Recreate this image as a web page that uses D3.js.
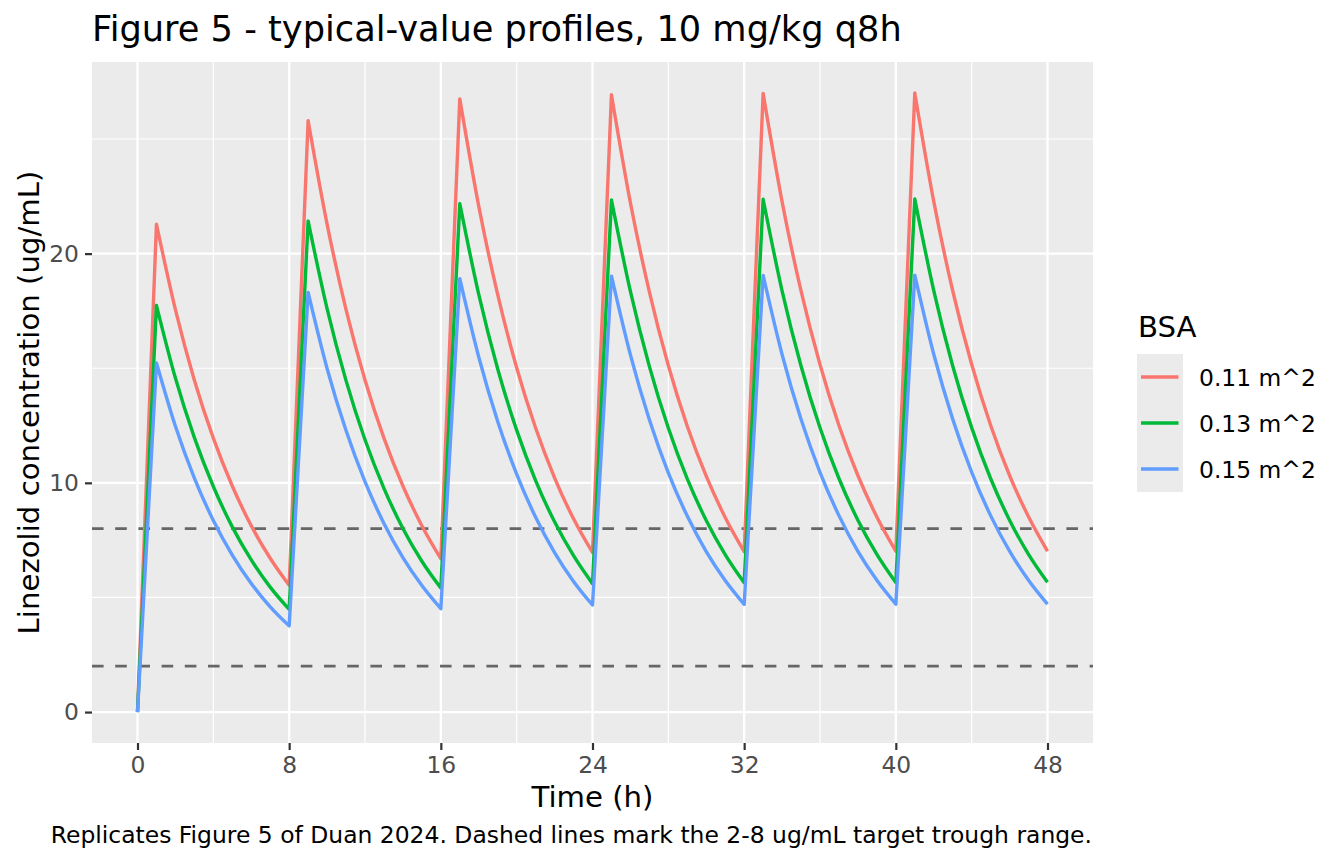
<!DOCTYPE html>
<html>
<head>
<meta charset="utf-8">
<script src="https://cdn.jsdelivr.net/npm/d3@7"></script>
<style>
  html, body { margin: 0; padding: 0; background: #ffffff; }
  svg { display: block; font-family: "DejaVu Sans", sans-serif; }
</style>
</head>
<body>
<svg id="chart" width="1344" height="864"></svg>
<script>
// ---- data ----
const timeHours = [0,1,2,3,4,5,6,7,8,9,10,11,12,13,14,15,16,17,18,19,20,21,22,23,24,25,26,27,28,29,30,31,32,33,34,35,36,37,38,39,40,41,42,43,44,45,46,47,48];
const doseTimes = [0, 8, 16, 24, 32, 40];
const seriesNames = ["0.11 m^2", "0.13 m^2", "0.15 m^2"];
const seriesColors = ["#F8766D", "#00BA38", "#619CFF"];
const conc011 = [0,
  21.28,17.56,14.48,11.95,9.86,8.13,6.71,5.53,
  25.80,21.29,17.56,14.49,11.95,9.86,8.13,6.69,
  26.75,22.07,18.21,15.02,12.39,10.22,8.43,6.96,
  26.93,22.22,18.33,15.12,12.47,10.29,8.49,7.00,
  26.99,22.27,18.37,15.16,12.50,10.32,8.51,7.02,
  27.01,22.28,18.38,15.17,12.51,10.32,8.52,7.02];
const conc013 = [0,
  17.74,14.57,11.97,9.84,8.08,6.64,5.45,4.48,
  21.42,17.60,14.46,11.88,9.76,8.01,6.58,5.41,
  22.18,18.22,14.97,12.30,10.10,8.30,6.82,5.60,
  22.34,18.35,15.08,12.39,10.17,8.36,6.87,5.64,
  22.37,18.38,15.10,12.40,10.19,8.37,6.88,5.65,
  22.38,18.39,15.10,12.41,10.19,8.37,6.88,5.66];
const conc015 = [0,
  15.23,12.47,10.21,8.36,6.85,5.61,4.59,3.76,
  18.31,14.99,12.28,10.05,8.23,6.74,5.52,4.51,
  18.91,15.49,12.68,10.38,8.50,6.96,5.70,4.67,
  19.02,15.58,12.75,10.44,8.55,7.00,5.74,4.70,
  19.05,15.60,12.77,10.46,8.57,7.01,5.75,4.71,
  19.06,15.61,12.78,10.47,8.57,7.02,5.75,4.71];
const seriesValues = [conc011, conc013, conc015];
const targetLines = [2, 8];
const xMajorTicks = [0, 8, 16, 24, 32, 40, 48];
const xMinorTicks = [4, 12, 20, 28, 36, 44];
const yMajorTicks = [0, 10, 20];
const yMinorTicks = [5, 15, 25];

const titleText = "Figure 5 - typical-value profiles, 10 mg/kg q8h";
const xTitle = "Time (h)";
const yTitle = "Linezolid concentration (ug/mL)";
const legendTitle = "BSA";
const captionText = "Replicates Figure 5 of Duan 2024. Dashed lines mark the 2-8 ug/mL target trough range.";

// ---- layout ----
const panel = { left: 92, right: 1093, top: 62, bottom: 743 };
const svg = d3.select("#chart");

const x = d3.scaleLinear().domain([-2.4, 50.4]).range([panel.left, panel.right]);
const y = d3.scaleLinear().domain([-1.35, 28.36]).range([panel.bottom, panel.top]);

// panel background
svg.append("rect")
  .attr("x", panel.left).attr("y", panel.top)
  .attr("width", panel.right - panel.left).attr("height", panel.bottom - panel.top)
  .attr("fill", "#EBEBEB");

const grid = svg.append("g");
// minor grid
grid.selectAll(".ymin").data(yMinorTicks).join("line")
  .attr("x1", panel.left).attr("x2", panel.right)
  .attr("y1", d => y(d)).attr("y2", d => y(d))
  .attr("stroke", "#ffffff").attr("stroke-width", 1.2);
grid.selectAll(".xmin").data(xMinorTicks).join("line")
  .attr("y1", panel.top).attr("y2", panel.bottom)
  .attr("x1", d => x(d)).attr("x2", d => x(d))
  .attr("stroke", "#ffffff").attr("stroke-width", 1.2);
// major grid
grid.selectAll(".ymaj").data(yMajorTicks).join("line")
  .attr("x1", panel.left).attr("x2", panel.right)
  .attr("y1", d => y(d)).attr("y2", d => y(d))
  .attr("stroke", "#ffffff").attr("stroke-width", 2.3);
grid.selectAll(".xmaj").data(xMajorTicks).join("line")
  .attr("y1", panel.top).attr("y2", panel.bottom)
  .attr("x1", d => x(d)).attr("x2", d => x(d))
  .attr("stroke", "#ffffff").attr("stroke-width", 2.3);

// dashed target lines
svg.append("g").selectAll("line").data(targetLines).join("line")
  .attr("x1", panel.left).attr("x2", panel.right)
  .attr("y1", d => y(d)).attr("y2", d => y(d))
  .attr("stroke", "#666666").attr("stroke-width", 2.7)
  .attr("stroke-dasharray", "11.6,11.6");

// series paths: linear infusion rise, smooth decay between hourly readings
const smooth = d3.line().x(d => x(d[0])).y(d => y(d[1])).curve(d3.curveMonotoneX);
function buildPath(vals) {
  const pts = timeHours.map((t, i) => [t, vals[i]]);
  let p = "M" + x(pts[0][0]) + "," + y(pts[0][1]);
  doseTimes.forEach(dt => {
    const i0 = timeHours.indexOf(dt);
    const decay = pts.slice(i0 + 1, i0 + 9);
    p += "L" + x(decay[0][0]) + "," + y(decay[0][1]);
    const s = smooth(decay);
    p += "L" + s.slice(1);
  });
  return p;
}
const lines = svg.append("g");
seriesValues.forEach((vals, i) => {
  lines.append("path")
    .attr("d", buildPath(vals))
    .attr("fill", "none")
    .attr("stroke", seriesColors[i])
    .attr("stroke-width", 3.4)
    .attr("stroke-linejoin", "round")
    .attr("stroke-linecap", "butt");
});

// axes
const xAxis = svg.append("g")
  .attr("transform", `translate(0,${panel.bottom})`)
  .call(d3.axisBottom(x).tickValues(xMajorTicks).tickSize(7).tickPadding(6).tickFormat(d3.format("d")));
const yAxis = svg.append("g")
  .attr("transform", `translate(${panel.left},0)`)
  .call(d3.axisLeft(y).tickValues(yMajorTicks).tickSize(7).tickPadding(6).tickFormat(d3.format("d")));
[xAxis, yAxis].forEach(a => {
  a.select(".domain").remove();
  a.selectAll(".tick line").attr("stroke", "#333333").attr("stroke-width", 2.2);
  a.selectAll(".tick text")
    .attr("fill", "#4D4D4D")
    .style("font-family", "'DejaVu Sans', sans-serif")
    .style("font-size", "23.4px");
});

// titles
svg.append("text").attr("x", 92).attr("y", 41)
  .style("font-size", "35.2px").attr("fill", "#000").text(titleText);
svg.append("text").attr("x", (panel.left + panel.right) / 2).attr("y", 806.5)
  .attr("text-anchor", "middle").style("font-size", "29.2px").attr("fill", "#000").text(xTitle);
svg.append("text")
  .attr("transform", `translate(39,${(panel.top + panel.bottom) / 2}) rotate(-90)`)
  .attr("text-anchor", "middle").style("font-size", "29.2px").attr("fill", "#000").text(yTitle);

// caption
svg.append("text").attr("x", 1092).attr("y", 843)
  .attr("text-anchor", "end").style("font-size", "23.45px").attr("fill", "#000").text(captionText);

// legend
const legend = svg.append("g");
legend.append("text").attr("x", 1138).attr("y", 336.5)
  .style("font-size", "29.2px").attr("fill", "#000").text(legendTitle);
const keyH = 46;
seriesNames.forEach((name, i) => {
  const ky = 354 + i * keyH;
  legend.append("rect").attr("x", 1137).attr("y", ky).attr("width", 46).attr("height", keyH)
    .attr("fill", "#EBEBEB");
  legend.append("line").attr("x1", 1141).attr("x2", 1178.5)
    .attr("y1", ky + keyH / 2).attr("y2", ky + keyH / 2)
    .attr("stroke", seriesColors[i]).attr("stroke-width", 3.4);
  legend.append("text").attr("x", 1199).attr("y", ky + keyH / 2 + 8.5)
    .style("font-size", "23.4px").attr("fill", "#000").text(name);
});
</script>
</body>
</html>
